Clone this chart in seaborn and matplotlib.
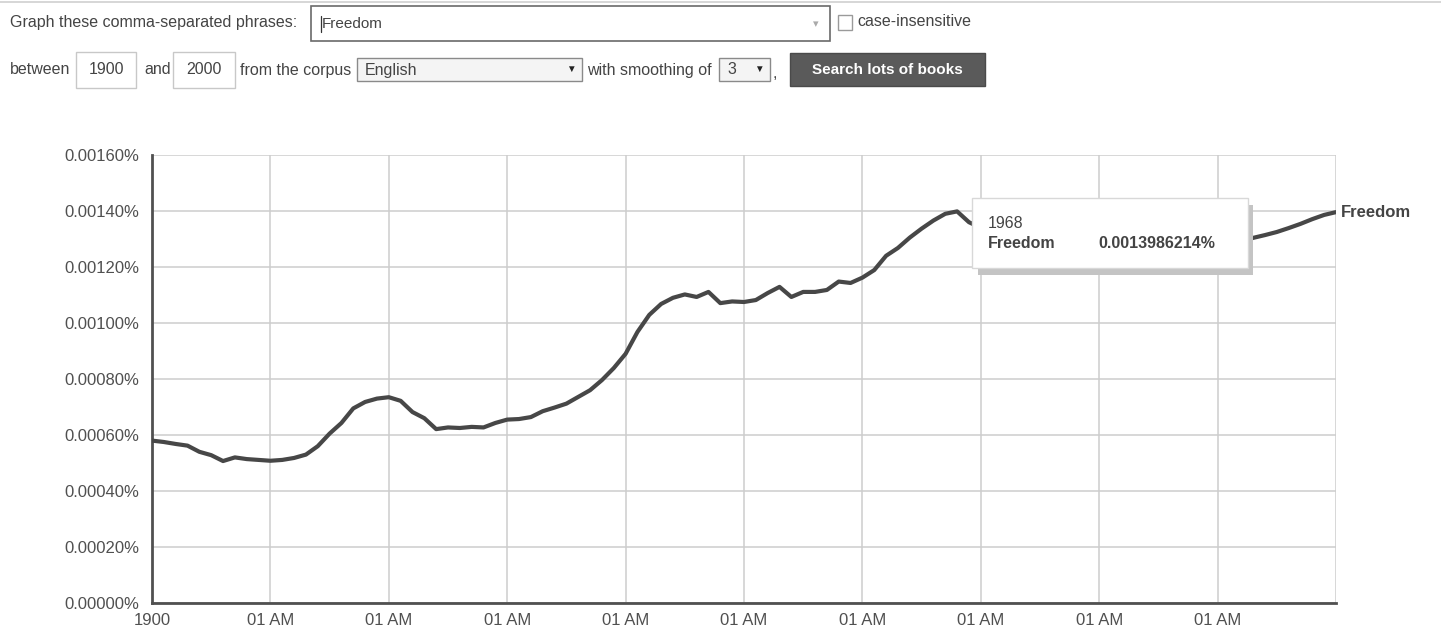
import matplotlib
matplotlib.use("Agg")
import matplotlib.pyplot as plt
from matplotlib.patches import Rectangle
import seaborn as sns
import pandas as pd

# ---------------- data ----------------
years = list(range(1900, 2001))
freedom = [
    0.000580, 0.000575, 0.000568, 0.000562, 0.000540, 0.000528, 0.000507, 0.000520, 0.000514, 0.000511,
    0.000508, 0.000511, 0.000518, 0.000530, 0.000560, 0.000605, 0.000643, 0.000695, 0.000718, 0.000730,
    0.000735, 0.000722, 0.000682, 0.000660, 0.000621, 0.000627, 0.000625, 0.000629, 0.000627, 0.000643,
    0.000655, 0.000657, 0.000664, 0.000685, 0.000698, 0.000712, 0.000736, 0.000760, 0.000796, 0.000839,
    0.000890, 0.000968, 0.001029, 0.001068, 0.001090, 0.001102, 0.001093, 0.001111, 0.001071, 0.001077,
    0.001075, 0.001082, 0.001107, 0.001129, 0.001093, 0.001111, 0.001111, 0.001118, 0.001148, 0.001143,
    0.001162, 0.001189, 0.001240, 0.001268, 0.001305, 0.001337, 0.001366, 0.001390, 0.0013986214, 0.001360,
    0.001340, 0.001310, 0.001280, 0.001260, 0.001240, 0.001230, 0.001220, 0.001210, 0.001200, 0.001190,
    0.001190, 0.001180, 0.001180, 0.001180, 0.001190, 0.001200, 0.001210, 0.001220, 0.001240, 0.001250,
    0.001270, 0.001280, 0.001290, 0.001304, 0.001314, 0.001325, 0.001339, 0.001354, 0.001371, 0.001386,
    0.001396,
]
series_name = "Freedom"
y_ticks = [0.0, 0.0002, 0.0004, 0.0006, 0.0008, 0.0010, 0.0012, 0.0014, 0.0016]
y_tick_labels = ["0.00000%", "0.00020%", "0.00040%", "0.00060%", "0.00080%",
                 "0.00100%", "0.00120%", "0.00140%", "0.00160%"]
x_ticks = list(range(1900, 2001, 10))
x_tick_labels = ["1900"] + ["01 AM"] * 9 + [""]
tooltip_year = "1968"
tooltip_value = "0.0013986214%"

df = pd.DataFrame({"year": years, "value": freedom})

# ---------------- figure ----------------
sns.set_style("white")
plt.rcParams["font.family"] = ["Liberation Sans", "DejaVu Sans"]

W, H = 1441, 633
fig = plt.figure(figsize=(W / 100, H / 100), dpi=100)
fig.patch.set_facecolor("white")


def fx(x):
    return x / W


def fy(y):
    return 1 - y / H


ax = fig.add_axes([fx(152), fy(603), (1336 - 152) / W, (603 - 155) / H])
sns.lineplot(data=df, x="year", y="value", ax=ax, color="#474747", linewidth=3.0,
             solid_capstyle="round", solid_joinstyle="round", zorder=3)

ax.set_xlim(1900, 2000)
ax.set_ylim(0, 0.0016)
ax.set_xticks(x_ticks)
ax.set_xticklabels(x_tick_labels)
ax.set_yticks(y_ticks)
ax.set_yticklabels(y_tick_labels)
ax.set_xlabel("")
ax.set_ylabel("")
ax.grid(True, color="#cdcdcd", linewidth=1.1, zorder=0)
ax.set_axisbelow(True)
for s in ["top", "right"]:
    ax.spines[s].set_visible(False)
for s in ["left", "bottom"]:
    ax.spines[s].set_color("#505050")
    ax.spines[s].set_linewidth(2.0)
ax.tick_params(axis="both", direction="out", length=5, width=1.5, color="#505050",
               labelcolor="#505050", labelsize=12)
ax.tick_params(axis="y", pad=4)
ax.tick_params(axis="x", pad=2)

# series label at line end
ax.text(2000.4, freedom[-1], series_name, fontsize=12, fontweight="bold", color="#444444",
        va="center", ha="left", clip_on=False)

# ---------------- tooltip ----------------
fig.add_artist(Rectangle((fx(978), fy(275)), (1253 - 978) / W, (275 - 205) / H,
                         transform=fig.transFigure, facecolor="#c4c4c4", edgecolor="none", zorder=10))
fig.add_artist(Rectangle((fx(972), fy(268)), (1248 - 972) / W, (268 - 198) / H,
                         transform=fig.transFigure, facecolor="white", edgecolor="#d8d8d8",
                         linewidth=1.0, zorder=11))
fig.text(fx(988), fy(223), tooltip_year, fontsize=11.5, color="#444444", va="center", ha="left", zorder=12)
fig.text(fx(988), fy(243), series_name, fontsize=11.5, fontweight="bold", color="#444444",
         va="center", ha="left", zorder=12)
fig.text(fx(1098), fy(243), tooltip_value, fontsize=11.5, fontweight="bold", color="#444444",
         va="center", ha="left", zorder=12)

# ---------------- UI controls ----------------
ui_col = "#444444"
ui_fs = 11.5


def box(x0, y0, x1, y1, fc="white", ec="#a8a8a8", lw=1.0, z=5):
    fig.add_artist(Rectangle((fx(x0), fy(y1)), (x1 - x0) / W, (y1 - y0) / H,
                             transform=fig.transFigure, facecolor=fc, edgecolor=ec,
                             linewidth=lw, zorder=z))


def label(x, y, s, ha="left", color=ui_col, fs=ui_fs, weight="normal"):
    fig.text(fx(x), fy(y), s, ha=ha, va="center", color=color, fontsize=fs,
             fontweight=weight, zorder=6)


# top border
fig.add_artist(plt.Line2D([0, 1], [fy(2), fy(2)], transform=fig.transFigure,
                          color="#cfcfcf", linewidth=1.2))

label(10, 22, "Graph these comma-separated phrases:")
box(311, 6, 830, 41, ec="#6a6a6a", lw=1.2)
label(322, 24, "Freedom", fs=11)
fig.add_artist(plt.Line2D([fx(321), fx(321)], [fy(16), fy(32)], transform=fig.transFigure,
                          color="#333333", linewidth=0.9, zorder=7))
label(816, 24, "▾", ha="center", color="#aaaaaa", fs=8)
box(838, 15, 852, 30, ec="#9a9a9a")
label(857, 22, "case-insensitive")

label(10, 70, "between")
box(76, 52, 136, 88, ec="#c8c8c8")
label(106, 70, "1900", ha="center")
label(144, 70, "and")
box(173, 52, 235, 88, ec="#c8c8c8")
label(204, 70, "2000", ha="center")
label(240, 70, "from the corpus")
box(357, 58, 582, 81, fc="#f4f4f4", ec="#8a8a8a")
label(365, 70, "English", fs=11.5)
label(571, 69, "▼", ha="center", color="#222222", fs=7)
label(587, 70, "with smoothing of")
box(719, 58, 770, 81, fc="#f4f4f4", ec="#8a8a8a")
label(727, 70, "3", fs=11.5)
label(759, 69, "▼", ha="center", color="#222222", fs=7)
label(773, 74, ",")
box(790, 53, 985, 86, fc="#5a5a5a", ec="#4a4a4a")
label(887, 70, "Search lots of books", ha="center", color="white", weight="bold", fs=11)

fig.savefig("out.png", dpi=100, facecolor="white")
